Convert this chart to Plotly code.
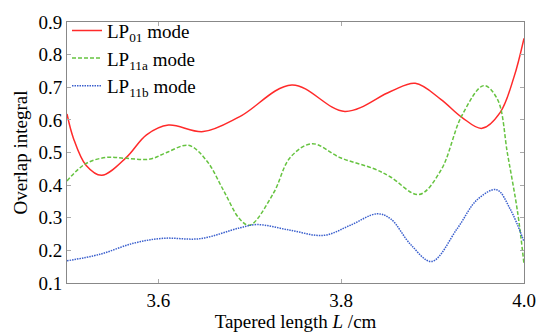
import plotly.graph_objects as go

# LP01 mode
x01 = [3.500, 3.507, 3.521, 3.538, 3.565, 3.587, 3.611, 3.649, 3.689, 3.746, 3.804, 3.854, 3.881, 3.909, 3.932, 3.954, 3.974, 3.989, 4.000]
y01 = [0.618, 0.544, 0.460, 0.430, 0.485, 0.554, 0.584, 0.564, 0.610, 0.707, 0.626, 0.687, 0.712, 0.663, 0.608, 0.574, 0.623, 0.731, 0.850]

# LP11a mode
x11a = [3.500, 3.520, 3.543, 3.565, 3.591, 3.609, 3.633, 3.653, 3.671, 3.689, 3.700, 3.726, 3.744, 3.768, 3.799, 3.836, 3.854, 3.885, 3.909, 3.932, 3.956, 3.971, 3.982, 3.993, 4.000]
y11a = [0.413, 0.465, 0.485, 0.482, 0.480, 0.500, 0.522, 0.474, 0.385, 0.296, 0.277, 0.376, 0.484, 0.527, 0.484, 0.450, 0.425, 0.371, 0.445, 0.613, 0.705, 0.663, 0.495, 0.317, 0.158]

# LP11b mode
x11b = [3.500, 3.536, 3.573, 3.605, 3.646, 3.689, 3.708, 3.744, 3.781, 3.810, 3.839, 3.854, 3.876, 3.899, 3.927, 3.949, 3.970, 3.985, 4.000]
y11b = [0.168, 0.188, 0.222, 0.237, 0.236, 0.269, 0.279, 0.262, 0.246, 0.277, 0.312, 0.297, 0.218, 0.166, 0.267, 0.356, 0.386, 0.326, 0.227]

xticks = [3.6, 3.8, 4.0]
xticklabels = ["3.6", "3.8", "4.0"]
yticks = [0.1, 0.2, 0.3, 0.4, 0.5, 0.6, 0.7, 0.8, 0.9]
xtitle = "Tapered length <i>L</i> /cm"
ytitle = "Overlap integral"

font = "Liberation Serif"
fs = 19

fig = go.Figure()
fig.add_trace(go.Scatter(x=x01, y=y01, mode="lines", name="LP<sub>01</sub> mode",
                         line=dict(color="#ff2a2a", width=1.5, shape="spline", smoothing=1.0)))
fig.add_trace(go.Scatter(x=x11a, y=y11a, mode="lines", name="LP<sub>11a</sub> mode",
                         line=dict(color="#66c340", width=1.5, dash="4px,2px", shape="spline", smoothing=1.0)))
fig.add_trace(go.Scatter(x=x11b, y=y11b, mode="lines", name="LP<sub>11b</sub> mode",
                         line=dict(color="#3a5fcd", width=1.5, dash="1.5px,1px", shape="spline", smoothing=1.0)))

axis_common = dict(showgrid=False, zeroline=False, showline=True, linecolor="#888888", linewidth=1,
                   mirror="ticks", ticks="inside", ticklen=4, tickcolor="#aaaaaa", automargin=False,
                   tickfont=dict(family=font, size=fs, color="black"))

fig.update_layout(
    width=537, height=333,
    margin=dict(l=67, r=13, t=13, b=50),
    plot_bgcolor="white", paper_bgcolor="white",
    font=dict(family=font, size=fs, color="black"),
    showlegend=True,
    legend=dict(x=0.0, y=1.04, xanchor="left", yanchor="top", bgcolor="rgba(0,0,0,0)",
                font=dict(family=font, size=fs), tracegroupgap=0, itemwidth=30),
)
fig.update_xaxes(range=[3.5, 4.0], tickvals=xticks, ticktext=xticklabels,
                 title=dict(text=xtitle, font=dict(family=font, size=fs), standoff=3),
                 **axis_common)
fig.update_yaxes(range=[0.1, 0.9], tickvals=yticks, tickformat=".1f",
                 title=dict(text=ytitle, font=dict(family=font, size=fs), standoff=5),
                 **axis_common)

fig.write_html("out.html", config={"displayModeBar": False},
               post_script="document.body.style.margin='0';")
